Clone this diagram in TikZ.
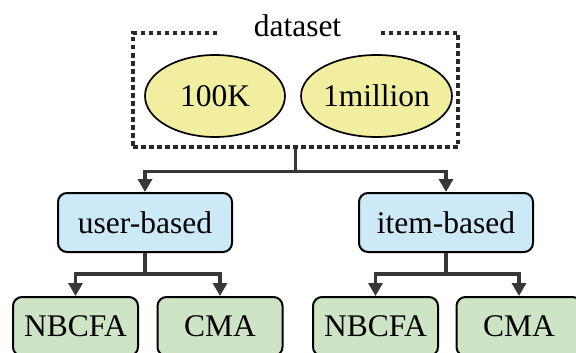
\documentclass[tikz,border=0pt]{standalone}
\usepackage{fontspec}
\setmainfont{Liberation Serif}
\usetikzlibrary{arrows.meta,shapes.geometric}
\definecolor{ellfill}{RGB}{242,238,160}
\definecolor{bluefill}{RGB}{204,233,247}
\definecolor{greenfill}{RGB}{205,229,196}
\definecolor{linegray}{RGB}{55,55,55}
\definecolor{dashgray}{RGB}{40,40,40}
\begin{document}
\begin{tikzpicture}[x=1pt,y=-1pt,
  font=\fontsize{31.5}{36}\selectfont,
  dsbox/.style={draw=dashgray, line width=3.6pt, dash pattern=on 4.5pt off 3.5pt,
    minimum width=325pt, minimum height=114pt, inner sep=0pt},
  dstitle/.style={fill=white, inner xsep=36pt, inner ysep=2pt},
  ell/.style={ellipse, draw=black, line width=1.7pt, fill=ellfill,
    minimum width=140pt, minimum height=82pt, inner sep=0pt},
  midbox/.style={draw=black, line width=2pt, rounded corners=9pt, fill=bluefill,
    minimum width=174pt, minimum height=59pt, inner sep=0pt},
  leafbox/.style={draw=black, line width=2pt, rounded corners=9pt, fill=greenfill,
    minimum width=125pt, minimum height=59pt, inner sep=0pt},
  conn/.style={draw=linegray, line width=3.3pt,
    -{Triangle[length=13pt,width=14pt]}}
]
\useasboundingbox (0,0) rectangle (576,353);
\clip (0,0) rectangle (576,353);

% dataset group
\node[dsbox] (ds) at (295.5,90) {};
\node[dstitle] (dstitle) at (297.5,25.5) {dataset};
\node[ell] (k100) at (215,96) {100K};
\node[ell] (m1) at (376.5,96) {1million};

% middle level
\node[midbox] (ub) at (145,222.5) {user-based};
\node[midbox] (ib) at (446,222.5) {item-based};

% leaves
\node[leafbox] (ubn) at (75.5,326.5) {NBCFA};
\node[leafbox] (ubc) at (220,326.5) {CMA};
\node[leafbox] (ibn) at (375.5,326.5) {NBCFA};
\node[leafbox] (ibc) at (519,326.5) {CMA};

% connectors
\draw[conn] (ds.south) -- ++(0,23) -| (ub.north);
\draw[conn] (ds.south) -- ++(0,23) -| (ib.north);
\draw[conn] (ub.south) -- ++(0,21) -| (ubn.north);
\draw[conn] (ub.south) -- ++(0,21) -| (ubc.north);
\draw[conn] (ib.south) -- ++(0,21) -| (ibn.north);
\draw[conn] (ib.south) -- ++(0,21) -| (ibc.north);
\end{tikzpicture}
\end{document}
